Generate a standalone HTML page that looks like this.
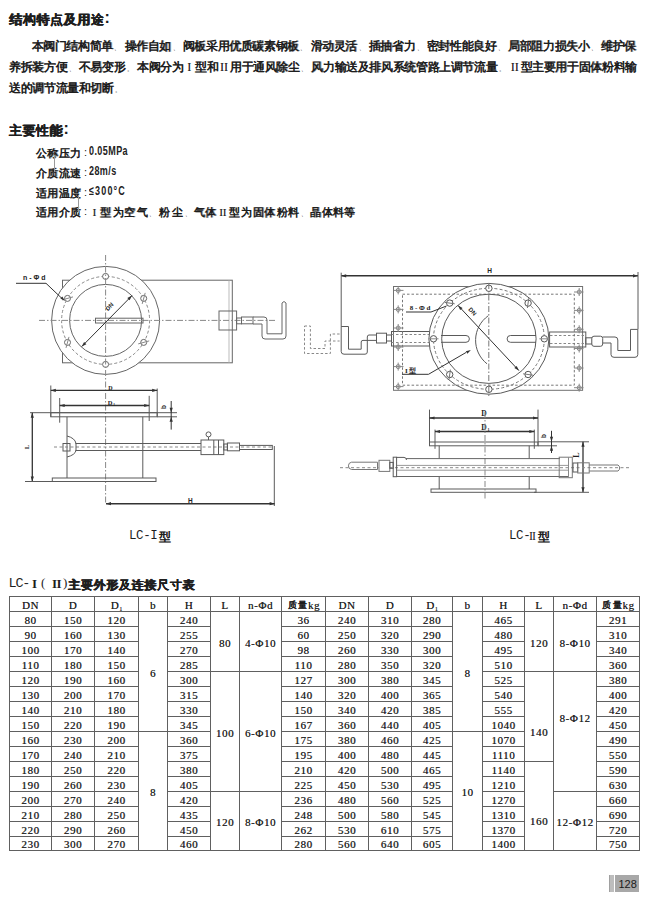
<!DOCTYPE html><html><head><meta charset="utf-8"><title>LC</title><style>
@font-face{font-family:"Liberation Sans CJK";src:local("Liberation Sans");font-weight:400;size-adjust:133%;unicode-range:U+3000-9FFF,U+FF00-FFEF;}
html,body{margin:0;padding:0;background:#fff;}
body{width:650px;height:900px;position:relative;overflow:hidden;font-family:"Liberation Sans CJK","Liberation Sans",sans-serif;color:#1e1e1e;}
i{font-style:normal;}
.t{position:absolute;white-space:nowrap;line-height:1;}
.t i{display:inline-block;text-align:center;font-weight:bold;}
.t i.r{font-family:"Liberation Serif",serif;font-weight:normal;}
.t i.pu{font-size:6px;text-align:left;text-indent:1.5px;font-weight:normal;text-shadow:none}
.h{font-size:12.5px;}
.h i{text-shadow:.3px 0 0 currentColor,-.3px 0 0 currentColor;}
.w136{width:13.6px}.w1163{width:11.63px}.w114{width:11.4px}.w127{width:12.7px}.w12{width:12px}
.p{font-size:12px;}
.p i,.s i{text-shadow:.3px .3px 0 rgba(30,30,30,.45);}
.s{font-size:11px;}
.mono{font-family:"Liberation Mono",monospace;}
.nar{display:inline-block;transform-origin:0 0;}
svg{position:absolute;left:0;top:0;}
table{position:absolute;border-collapse:collapse;table-layout:fixed;font-family:"Liberation Sans CJK","Liberation Serif",serif;font-size:12px;color:#1e1e1e;}
td{border:1px solid #606060;height:12px;padding:2px 0 0 0;text-align:center;vertical-align:middle;line-height:12px;white-space:nowrap;font-weight:normal;font-size:11px;letter-spacing:.6px;text-shadow:.35px 0 0 rgba(20,20,20,.7);}
td i{display:inline-block;font-weight:bold;vertical-align:top;line-height:12px;height:12px;font-size:8.5px;width:10.5px;letter-spacing:0}
sub{vertical-align:top;line-height:0;position:relative;top:10px;font-size:6px;letter-spacing:0}
.pg{position:absolute;left:608px;top:875px;width:31px;height:16px;background:#a9a9a9;}
</style></head><body>

<div class="t h" style="left:9.1px;top:13.6px"><i class="w136">结</i><i class="w136">构</i><i class="w136">特</i><i class="w136">点</i><i class="w136">及</i><i class="w136">用</i><i class="w136">途</i></div>
<div class="t" style="left:104.5px;top:9.5px;font-size:16px;font-weight:bold">:</div>
<div class="t p" style="left:31.6px;top:40px"><i class="w1163">本</i><i class="w1163">阀</i><i class="w1163">门</i><i class="w1163">结</i><i class="w1163">构</i><i class="w1163">简</i><i class="w1163">单</i><i class="w1163 pu">、</i><i class="w1163">操</i><i class="w1163">作</i><i class="w1163">自</i><i class="w1163">如</i><i class="w1163 pu">、</i><i class="w1163">阀</i><i class="w1163">板</i><i class="w1163">采</i><i class="w1163">用</i><i class="w1163">优</i><i class="w1163">质</i><i class="w1163">碳</i><i class="w1163">素</i><i class="w1163">钢</i><i class="w1163">板</i><i class="w1163 pu">、</i><i class="w1163">滑</i><i class="w1163">动</i><i class="w1163">灵</i><i class="w1163">活</i><i class="w1163 pu">、</i><i class="w1163">插</i><i class="w1163">抽</i><i class="w1163">省</i><i class="w1163">力</i><i class="w1163 pu">、</i><i class="w1163">密</i><i class="w1163">封</i><i class="w1163">性</i><i class="w1163">能</i><i class="w1163">良</i><i class="w1163">好</i><i class="w1163 pu">、</i><i class="w1163">局</i><i class="w1163">部</i><i class="w1163">阻</i><i class="w1163">力</i><i class="w1163">损</i><i class="w1163">失</i><i class="w1163">小</i><i class="w1163 pu">、</i><i class="w1163">维</i><i class="w1163">护</i><i class="w1163">保</i></div>
<div class="t p" style="left:9px;top:61px"><i class="w1163">养</i><i class="w1163">拆</i><i class="w1163">装</i><i class="w1163">方</i><i class="w1163">便</i><i class="w1163 pu">、</i><i class="w1163">不</i><i class="w1163">易</i><i class="w1163">变</i><i class="w1163">形</i><i class="w1163 pu">。</i><i class="w1163">本</i><i class="w1163">阀</i><i class="w1163">分</i><i class="w1163">为</i><i class="w1163 r">I</i><i class="w1163">型</i><i class="w1163">和</i><i class="w1163 r">II</i><i class="w1163">用</i><i class="w1163">于</i><i class="w1163">通</i><i class="w1163">风</i><i class="w1163">除</i><i class="w1163">尘</i><i class="w1163 pu">、</i><i class="w1163">风</i><i class="w1163">力</i><i class="w1163">输</i><i class="w1163">送</i><i class="w1163">及</i><i class="w1163">排</i><i class="w1163">风</i><i class="w1163">系</i><i class="w1163">统</i><i class="w1163">管</i><i class="w1163">路</i><i class="w1163">上</i><i class="w1163">调</i><i class="w1163">节</i><i class="w1163">流</i><i class="w1163">量</i><i class="w1163 pu">。</i><i class="w1163 r">II</i><i class="w1163">型</i><i class="w1163">主</i><i class="w1163">要</i><i class="w1163">用</i><i class="w1163">于</i><i class="w1163">固</i><i class="w1163">体</i><i class="w1163">粉</i><i class="w1163">料</i><i class="w1163">输</i></div>
<div class="t p" style="left:9px;top:82px"><i class="w1163">送</i><i class="w1163">的</i><i class="w1163">调</i><i class="w1163">节</i><i class="w1163">流</i><i class="w1163">量</i><i class="w1163">和</i><i class="w1163">切</i><i class="w1163">断</i><i class="w1163 pu">。</i></div>
<div class="t h" style="left:8.7px;top:125px"><i class="w136">主</i><i class="w136">要</i><i class="w136">性</i><i class="w136">能</i></div>
<div class="t" style="left:63.5px;top:120.5px;font-size:16px;font-weight:bold">:</div>
<div class="t s" style="left:35.7px;top:147.6px"><i class="w114">公</i><i class="w114">称</i><i class="w114">压</i><i class="w114">力</i></div>
<div class="t" style="left:84px;top:146.6px;font-size:11px">:</div>
<div class="t" style="left:89px;top:145.1px;font-size:12.5px;transform:scaleX(.72);transform-origin:0 0;color:#222;font-weight:bold;letter-spacing:.6px">0.05MPa</div>
<div class="t s" style="left:35.7px;top:167.9px"><i class="w114">介</i><i class="w114">质</i><i class="w114">流</i><i class="w114">速</i></div>
<div class="t" style="left:84px;top:166.9px;font-size:11px">:</div>
<div class="t" style="left:89px;top:165.4px;font-size:12.5px;transform:scaleX(.72);transform-origin:0 0;color:#222;font-weight:bold;letter-spacing:.6px">28m/s</div>
<div class="t s" style="left:35.7px;top:187.6px"><i class="w114">适</i><i class="w114">用</i><i class="w114">温</i><i class="w114">度</i></div>
<div class="t" style="left:84px;top:186.6px;font-size:11px">:</div>
<div class="t" style="left:89px;top:185.1px;font-size:12.5px;transform:scaleX(.72);transform-origin:0 0;color:#222;font-weight:bold;letter-spacing:1.6px">≤300°C</div>
<div class="t s" style="left:35.7px;top:207.3px"><i class="w114">适</i><i class="w114">用</i><i class="w114">介</i><i class="w114">质</i></div>
<div class="t" style="left:84px;top:206.3px;font-size:11px">:</div>
<div class="t s" style="left:92.6px;top:207.3px"><i class="r" style="width:8.2px;text-align:left">I</i><i style="width:12.2px;text-align:left;text-indent:-0.3px">型</i><i style="width:11.6px;text-align:left;text-indent:-0.3px">为</i><i style="width:12.4px;text-align:left;text-indent:-0.3px">空</i><i style="width:10.7px;text-align:left;text-indent:-0.3px">气</i><i class="pu" style="width:11.5px">、</i><i style="width:13.1px;text-align:left;text-indent:-0.3px">粉</i><i style="width:11.5px;text-align:left;text-indent:-0.3px">尘</i><i class="pu" style="width:10.8px">、</i><i style="width:11.1px;text-align:left;text-indent:-0.3px">气</i><i style="width:13.5px;text-align:left;text-indent:-0.3px">体</i><i class="r" style="width:10.0px;text-align:left">II</i><i style="width:12.3px;text-align:left;text-indent:-0.3px">型</i><i style="width:12.3px;text-align:left;text-indent:-0.3px">为</i><i style="width:10.8px;text-align:left;text-indent:-0.3px">固</i><i style="width:12.4px;text-align:left;text-indent:-0.3px">体</i><i style="width:11.5px;text-align:left;text-indent:-0.3px">粉</i><i style="width:11.5px;text-align:left;text-indent:-0.3px">料</i><i class="pu" style="width:10.8px">、</i><i style="width:11.5px;text-align:left;text-indent:-0.3px">晶</i><i style="width:10.7px;text-align:left;text-indent:-0.3px">体</i><i style="width:11.6px;text-align:left;text-indent:-0.3px">料</i><i style="width:11.3px;text-align:left;text-indent:-0.3px">等</i></div>
<div style="position:absolute;left:54px;top:155px;width:1px;height:17px;background:#9a9a9a"></div>
<div style="position:absolute;left:78px;top:195px;width:1px;height:18px;background:#9a9a9a"></div>
<svg width="650" height="900" viewBox="0 0 650 900" fill="none" stroke="#555" stroke-width="1">
<rect x="62.5" y="280.2" width="169.8" height="82.6" stroke="#666" stroke-width="1" fill="none"/>
<line x1="229.0" y1="280.5" x2="229.0" y2="362.5" stroke="#bbb" stroke-width="1"/>
<rect x="219.0" y="311.0" width="17.6" height="19.0" stroke="#666" stroke-width="1" fill="none"/>
<circle cx="105.6" cy="320.4" r="54.0" stroke="#666" stroke-width="1" fill="#fff"/>
<circle cx="105.6" cy="320.4" r="44.0" stroke="#888" stroke-width="1" fill="none" stroke-dasharray="3 2.2"/>
<circle cx="105.6" cy="320.4" r="36.0" stroke="#666" stroke-width="1" fill="none"/>
<circle cx="105.6" cy="276.4" r="3.0" stroke="#666" stroke-width="1" fill="#fff"/>
<circle cx="143.7" cy="298.4" r="3.0" stroke="#666" stroke-width="1" fill="#fff"/>
<line x1="142.2" y1="303.9" x2="145.2" y2="292.9" stroke="#888" stroke-width="1"/>
<circle cx="143.7" cy="342.4" r="3.0" stroke="#666" stroke-width="1" fill="#fff"/>
<line x1="138.2" y1="343.9" x2="149.2" y2="340.9" stroke="#888" stroke-width="1"/>
<circle cx="105.6" cy="364.4" r="3.0" stroke="#666" stroke-width="1" fill="#fff"/>
<circle cx="67.5" cy="298.4" r="3.0" stroke="#666" stroke-width="1" fill="#fff"/>
<line x1="73.0" y1="296.9" x2="62.0" y2="299.9" stroke="#888" stroke-width="1"/>
<circle cx="67.5" cy="342.4" r="3.0" stroke="#666" stroke-width="1" fill="#fff"/>
<line x1="69.0" y1="336.9" x2="66.0" y2="347.9" stroke="#888" stroke-width="1"/>
<line x1="105.6" y1="255.0" x2="105.6" y2="503.0" stroke="#888" stroke-width="1" stroke-dasharray="6 2 1.5 2"/>
<line x1="39.0" y1="320.4" x2="275.0" y2="320.4" stroke="#888" stroke-width="1" stroke-dasharray="6 2 1.5 2"/>
<rect x="95.5" y="318.2" width="47.5" height="4.8" stroke="#666" stroke-width="1" fill="none"/>
<line x1="81.7" y1="346.6" x2="132.0" y2="295.6" stroke="#333" stroke-width="1"/>
<path d="M81.7 346.6L84.1 341.9L86.4 344.2Z" fill="#333" stroke="none"/>
<path d="M132.0 295.6L129.6 300.3L127.3 298.0Z" fill="#333" stroke="none"/>
<text x="111.0" y="308.0" font-family="Liberation Sans" font-size="6" font-weight="bold" fill="#222" stroke="none" text-anchor="middle" transform="rotate(-47 111.0 308.0)">DN</text>
<text x="23.0" y="280.0" font-family="Liberation Sans" font-size="7" font-weight="bold" fill="#222" stroke="none" text-anchor="start">n - Φ d</text>
<path d="M16 283.3 L46 283.3 L62 298.5" stroke="#333" stroke-width="1" fill="none"/>
<path d="M65.0 301.0L60.4 298.6L62.3 296.5Z" fill="#333" stroke="none"/>
<rect x="236.6" y="318.0" width="4.9" height="5.8" stroke="#666" stroke-width="1" fill="none"/>
<rect x="241.5" y="317.0" width="11.5" height="6.8" stroke="#666" stroke-width="1" fill="none"/>
<path d="M253 317 L264 317 Q267 317 267 320 L267 333.8 L282 333.8 L282 303 Q284 300 286 303 L286 336 Q286 339 283 339 L265 339 Q262 339 262 336 L262 324 L253 324" stroke="#666" stroke-width="1" fill="none"/>
<line x1="50.8" y1="385.5" x2="50.8" y2="416.8" stroke="#5a5a5a" stroke-width="1"/>
<line x1="157.2" y1="388.5" x2="157.2" y2="416.8" stroke="#5a5a5a" stroke-width="1"/>
<line x1="50.8" y1="390.4" x2="157.2" y2="390.4" stroke="#333" stroke-width="1.3"/>
<path d="M50.8 390.4L55.8 388.8L55.8 392.0Z" fill="#333" stroke="none"/>
<path d="M157.2 390.4L152.2 392.0L152.2 388.8Z" fill="#333" stroke="none"/>
<text x="110.3" y="389.6" font-family="Liberation Serif" font-size="6" font-weight="bold" fill="#222" stroke="none" text-anchor="middle">D</text>
<line x1="59.7" y1="398.0" x2="59.7" y2="422.7" stroke="#5a5a5a" stroke-width="1"/>
<line x1="149.2" y1="395.8" x2="149.2" y2="421.0" stroke="#5a5a5a" stroke-width="1"/>
<line x1="59.7" y1="405.5" x2="149.2" y2="405.5" stroke="#333" stroke-width="1.3"/>
<path d="M59.7 405.5L64.7 403.9L64.7 407.1Z" fill="#333" stroke="none"/>
<path d="M149.2 405.5L144.2 407.1L144.2 403.9Z" fill="#333" stroke="none"/>
<text x="110.0" y="404.6" font-family="Liberation Serif" font-size="6.5" font-weight="bold" fill="#222" stroke="none" text-anchor="middle">D</text>
<text x="114.2" y="405.5" font-family="Liberation Serif" font-size="3.5" font-weight="bold" fill="#222" stroke="none" text-anchor="middle">1</text>
<rect x="50.8" y="412.7" width="106.4" height="4.1" stroke="#5a5a5a" stroke-width="1" fill="none"/>
<line x1="30.0" y1="412.7" x2="177.0" y2="412.7" stroke="#5a5a5a" stroke-width="1"/>
<line x1="157.2" y1="416.8" x2="177.0" y2="416.8" stroke="#5a5a5a" stroke-width="1"/>
<line x1="171.2" y1="401.0" x2="171.2" y2="429.6" stroke="#333" stroke-width="1"/>
<path d="M171.2 412.7L169.6 407.7L172.8 407.7Z" fill="#333" stroke="none"/>
<path d="M171.2 416.8L172.8 421.8L169.6 421.8Z" fill="#333" stroke="none"/>
<text x="166.0" y="407.0" font-family="Liberation Sans" font-size="6.5" font-weight="bold" fill="#222" stroke="none" text-anchor="middle" transform="rotate(-90 166.0 407.0)">b</text>
<line x1="67.0" y1="416.8" x2="67.0" y2="478.0" stroke="#5a5a5a" stroke-width="1"/>
<line x1="142.8" y1="416.8" x2="142.8" y2="478.0" stroke="#5a5a5a" stroke-width="1"/>
<rect x="52.3" y="478.0" width="103.7" height="3.5" stroke="#5a5a5a" stroke-width="1" fill="none"/>
<line x1="32.3" y1="412.7" x2="32.3" y2="481.5" stroke="#333" stroke-width="1.3"/>
<path d="M32.3 412.7L33.9 417.7L30.7 417.7Z" fill="#333" stroke="none"/>
<path d="M32.3 481.5L30.7 476.5L33.9 476.5Z" fill="#333" stroke="none"/>
<line x1="25.0" y1="481.5" x2="52.3" y2="481.5" stroke="#5a5a5a" stroke-width="1"/>
<text x="29.0" y="447.0" font-family="Liberation Serif" font-size="6.5" font-weight="bold" fill="#222" stroke="none" text-anchor="middle" transform="rotate(-90 29.0 447.0)">L</text>
<line x1="75.4" y1="443.5" x2="201.0" y2="443.5" stroke="#5a5a5a" stroke-width="1"/>
<line x1="75.4" y1="450.5" x2="201.0" y2="450.5" stroke="#5a5a5a" stroke-width="1"/>
<line x1="54.0" y1="447.0" x2="272.0" y2="447.0" stroke="#888" stroke-width="1" stroke-dasharray="3 2.5"/>
<path d="M67 436 Q75 438 76 443.5 L76 450.5 Q75 455 67 457" stroke="#5a5a5a" stroke-width="1" fill="none"/>
<rect x="63.0" y="443.5" width="7.0" height="7.5" stroke="#5a5a5a" stroke-width="1" fill="none"/>
<rect x="201.0" y="440.0" width="22.8" height="14.6" stroke="#5a5a5a" stroke-width="1" fill="none"/>
<line x1="213.8" y1="440.0" x2="213.8" y2="454.6" stroke="#5a5a5a" stroke-width="1"/>
<line x1="218.5" y1="440.0" x2="218.5" y2="454.6" stroke="#5a5a5a" stroke-width="1"/>
<circle cx="208.5" cy="434.4" r="2.5" stroke="#5a5a5a" stroke-width="1" fill="none"/>
<line x1="208.5" y1="437.0" x2="208.5" y2="440.0" stroke="#5a5a5a" stroke-width="1"/>
<rect x="223.8" y="444.0" width="3.6" height="6.0" stroke="#5a5a5a" stroke-width="1" fill="none"/>
<rect x="227.4" y="443.0" width="12.1" height="7.8" stroke="#5a5a5a" stroke-width="1" fill="none"/>
<rect x="239.5" y="445.4" width="32.8" height="4.1" stroke="#5a5a5a" stroke-width="1" fill="none"/>
<line x1="274.3" y1="446.0" x2="274.3" y2="506.0" stroke="#5a5a5a" stroke-width="1"/>
<line x1="106.0" y1="503.7" x2="274.6" y2="503.7" stroke="#333" stroke-width="1.5"/>
<path d="M106.0 503.7L111.0 502.1L111.0 505.3Z" fill="#333" stroke="none"/>
<path d="M274.6 503.7L269.6 505.3L269.6 502.1Z" fill="#333" stroke="none"/>
<text x="190.4" y="502.5" font-family="Liberation Sans" font-size="6.5" font-weight="bold" fill="#222" stroke="none" text-anchor="middle">H</text>
<line x1="341.2" y1="275.8" x2="638.0" y2="275.8" stroke="#333" stroke-width="1.5"/>
<path d="M341.2 275.8L346.2 274.2L346.2 277.4Z" fill="#333" stroke="none"/>
<path d="M638.0 275.8L633.0 277.4L633.0 274.2Z" fill="#333" stroke="none"/>
<text x="489.5" y="273.2" font-family="Liberation Sans" font-size="6.5" font-weight="bold" fill="#222" stroke="none" text-anchor="middle">H</text>
<line x1="341.2" y1="272.7" x2="341.2" y2="326.5" stroke="#5a5a5a" stroke-width="1"/>
<line x1="638.0" y1="272.0" x2="638.0" y2="329.3" stroke="#5a5a5a" stroke-width="1"/>
<rect x="393.5" y="286.5" width="189.1" height="103.8" stroke="#707070" stroke-width="1" fill="none"/>
<rect x="391.5" y="331.5" width="38.0" height="14.5" stroke="#5a5a5a" stroke-width="1" fill="none"/>
<line x1="391.5" y1="334.5" x2="429.0" y2="334.5" stroke="#888" stroke-width="1" stroke-dasharray="2.5 2"/>
<line x1="391.5" y1="342.5" x2="429.0" y2="342.5" stroke="#888" stroke-width="1" stroke-dasharray="2.5 2"/>
<rect x="549.6" y="332.0" width="36.2" height="15.0" stroke="#5a5a5a" stroke-width="1" fill="none"/>
<line x1="550.0" y1="335.5" x2="585.0" y2="335.5" stroke="#888" stroke-width="1" stroke-dasharray="2.5 2"/>
<line x1="550.0" y1="343.5" x2="585.0" y2="343.5" stroke="#888" stroke-width="1" stroke-dasharray="2.5 2"/>
<ellipse cx="488.9" cy="338.8" rx="60.0" ry="55.4" stroke="#5a5a5a" stroke-width="1" fill="#fff"/>
<rect x="402.5" y="294.2" width="171.8" height="91.0" stroke="#777" stroke-width="1" fill="none" stroke-dasharray="2.5 2"/>
<ellipse cx="488.9" cy="338.8" rx="55.4" ry="50.5" stroke="#777" stroke-width="1" fill="none" stroke-dasharray="3 2.2"/>
<ellipse cx="488.9" cy="338.8" rx="47.2" ry="44.6" stroke="#5a5a5a" stroke-width="1" fill="none"/>
<circle cx="398.2" cy="290.4" r="2.0" stroke="#888" stroke-width="1" fill="none"/>
<line x1="394.0" y1="290.4" x2="403.5" y2="290.4" stroke="#888" stroke-width="1"/>
<line x1="398.2" y1="286.4" x2="398.2" y2="294.4" stroke="#888" stroke-width="1"/>
<circle cx="398.2" cy="309.4" r="2.0" stroke="#888" stroke-width="1" fill="none"/>
<line x1="394.0" y1="309.4" x2="403.5" y2="309.4" stroke="#888" stroke-width="1"/>
<line x1="398.2" y1="305.4" x2="398.2" y2="313.4" stroke="#888" stroke-width="1"/>
<circle cx="398.2" cy="328.0" r="2.0" stroke="#888" stroke-width="1" fill="none"/>
<line x1="394.0" y1="328.0" x2="403.5" y2="328.0" stroke="#888" stroke-width="1"/>
<line x1="398.2" y1="324.0" x2="398.2" y2="332.0" stroke="#888" stroke-width="1"/>
<circle cx="398.2" cy="347.0" r="2.0" stroke="#888" stroke-width="1" fill="none"/>
<line x1="394.0" y1="347.0" x2="403.5" y2="347.0" stroke="#888" stroke-width="1"/>
<line x1="398.2" y1="343.0" x2="398.2" y2="351.0" stroke="#888" stroke-width="1"/>
<circle cx="398.2" cy="366.6" r="2.0" stroke="#888" stroke-width="1" fill="none"/>
<line x1="394.0" y1="366.6" x2="403.5" y2="366.6" stroke="#888" stroke-width="1"/>
<line x1="398.2" y1="362.6" x2="398.2" y2="370.6" stroke="#888" stroke-width="1"/>
<circle cx="398.2" cy="386.6" r="2.0" stroke="#888" stroke-width="1" fill="none"/>
<line x1="394.0" y1="386.6" x2="403.5" y2="386.6" stroke="#888" stroke-width="1"/>
<line x1="398.2" y1="382.6" x2="398.2" y2="390.6" stroke="#888" stroke-width="1"/>
<circle cx="579.2" cy="292.0" r="2.0" stroke="#888" stroke-width="1" fill="none"/>
<line x1="574.0" y1="292.0" x2="583.5" y2="292.0" stroke="#888" stroke-width="1"/>
<line x1="579.2" y1="288.0" x2="579.2" y2="296.0" stroke="#888" stroke-width="1"/>
<circle cx="579.2" cy="310.4" r="2.0" stroke="#888" stroke-width="1" fill="none"/>
<line x1="574.0" y1="310.4" x2="583.5" y2="310.4" stroke="#888" stroke-width="1"/>
<line x1="579.2" y1="306.4" x2="579.2" y2="314.4" stroke="#888" stroke-width="1"/>
<circle cx="579.2" cy="329.3" r="2.0" stroke="#888" stroke-width="1" fill="none"/>
<line x1="574.0" y1="329.3" x2="583.5" y2="329.3" stroke="#888" stroke-width="1"/>
<line x1="579.2" y1="325.3" x2="579.2" y2="333.3" stroke="#888" stroke-width="1"/>
<circle cx="579.2" cy="348.5" r="2.0" stroke="#888" stroke-width="1" fill="none"/>
<line x1="574.0" y1="348.5" x2="583.5" y2="348.5" stroke="#888" stroke-width="1"/>
<line x1="579.2" y1="344.5" x2="579.2" y2="352.5" stroke="#888" stroke-width="1"/>
<circle cx="579.2" cy="368.0" r="2.0" stroke="#888" stroke-width="1" fill="none"/>
<line x1="574.0" y1="368.0" x2="583.5" y2="368.0" stroke="#888" stroke-width="1"/>
<line x1="579.2" y1="364.0" x2="579.2" y2="372.0" stroke="#888" stroke-width="1"/>
<circle cx="579.2" cy="387.7" r="2.0" stroke="#888" stroke-width="1" fill="none"/>
<line x1="574.0" y1="387.7" x2="583.5" y2="387.7" stroke="#888" stroke-width="1"/>
<line x1="579.2" y1="383.7" x2="579.2" y2="391.7" stroke="#888" stroke-width="1"/>
<circle cx="544.3" cy="338.8" r="3.2" stroke="#555" stroke-width="1" fill="#fff"/>
<line x1="539.3" y1="338.8" x2="549.3" y2="338.8" stroke="#888" stroke-width="1"/>
<circle cx="528.1" cy="303.1" r="3.2" stroke="#555" stroke-width="1" fill="#fff"/>
<line x1="527.4" y1="308.0" x2="528.8" y2="298.1" stroke="#777" stroke-width="1"/>
<circle cx="488.9" cy="288.3" r="3.2" stroke="#555" stroke-width="1" fill="#fff"/>
<circle cx="449.7" cy="303.1" r="3.2" stroke="#555" stroke-width="1" fill="#fff"/>
<line x1="454.7" y1="303.8" x2="444.8" y2="302.4" stroke="#777" stroke-width="1"/>
<circle cx="433.5" cy="338.8" r="3.2" stroke="#555" stroke-width="1" fill="#fff"/>
<line x1="428.5" y1="338.8" x2="438.5" y2="338.8" stroke="#888" stroke-width="1"/>
<circle cx="449.7" cy="374.5" r="3.2" stroke="#555" stroke-width="1" fill="#fff"/>
<line x1="450.4" y1="369.6" x2="449.0" y2="379.5" stroke="#777" stroke-width="1"/>
<circle cx="488.9" cy="389.3" r="3.2" stroke="#555" stroke-width="1" fill="#fff"/>
<circle cx="528.1" cy="374.5" r="3.2" stroke="#555" stroke-width="1" fill="#fff"/>
<line x1="523.1" y1="373.8" x2="533.0" y2="375.2" stroke="#777" stroke-width="1"/>
<line x1="488.8" y1="283.0" x2="488.8" y2="396.0" stroke="#777" stroke-width="1" stroke-dasharray="6 2 1.5 2"/>
<path d="M441 335.5 L466 335.5 A3.4 3.4 0 0 1 466 342.3 L441 342.3" stroke="#5a5a5a" stroke-width="1" fill="none"/>
<path d="M536 335.5 L510.5 335.5 A3.4 3.4 0 0 0 510.5 342.3 L536 342.3" stroke="#5a5a5a" stroke-width="1" fill="none"/>
<path d="M488.2 315.8 A30 30 0 0 0 487 363.8" stroke="#5a5a5a" stroke-width="1" fill="none"/>
<line x1="458.0" y1="305.4" x2="518.9" y2="370.6" stroke="#333" stroke-width="1"/>
<path d="M458.0 305.4L462.6 308.0L460.2 310.1Z" fill="#333" stroke="none"/>
<path d="M518.9 370.6L514.3 368.0L516.7 365.9Z" fill="#333" stroke="none"/>
<text x="471.0" y="313.0" font-family="Liberation Sans" font-size="6" font-weight="bold" fill="#222" stroke="none" text-anchor="middle" transform="rotate(47 471.0 313.0)">DN</text>
<text x="409.7" y="310.0" font-family="Liberation Serif" font-size="7" font-weight="bold" fill="#222" stroke="none" text-anchor="start">8 - Φ d</text>
<path d="M406 312 L431 312 L446.5 306" stroke="#333" stroke-width="1" fill="none"/>
<text x="405.0" y="373.0" font-family="Liberation Serif" font-size="7" font-weight="bold" fill="#222" stroke="none" text-anchor="start">I</text>
<text x="408.5" y="373" font-family="Liberation Sans CJK,Liberation Sans" font-size="7" font-weight="bold" fill="#222" stroke="none">型</text>
<path d="M402 374.3 L428.5 374.3 L466 352.5" stroke="#333" stroke-width="1" fill="none"/>
<path d="M470.9 350.0L467.3 353.8L465.8 351.2Z" fill="#333" stroke="none"/>
<path d="M341.2 326.5 L348.5 326.5 L348.5 349.2 L361.2 349.2 L361.2 342 Q361.2 340.4 363 340.4 L376.5 340.4 M376.5 335 L369 335 Q367.3 335 367.3 337 L367.3 352 Q367.3 354.2 365 354.2 L344 354.2 Q341.2 354.2 341.2 351.5 L341.2 326.5" stroke="#5a5a5a" stroke-width="1" fill="none"/>
<rect x="376.5" y="333.2" width="10.0" height="9.8" stroke="#5a5a5a" stroke-width="1" fill="#fff"/>
<rect x="386.5" y="335.0" width="5.0" height="6.0" stroke="#5a5a5a" stroke-width="1" fill="none"/>
<path d="M304.5 326 L310.4 326 L310.4 348.5 L325 348.5 L325 341 L339.6 341 M339.6 334 L330.4 334 L330.4 353.5 L304.5 353.5 L304.5 326" stroke="#888" stroke-width="1" fill="none" stroke-dasharray="2.5 2"/>
<rect x="585.8" y="337.8" width="6.5" height="6.2" stroke="#5a5a5a" stroke-width="1" fill="none"/>
<path d="M594 336.2 L600.5 336.2 Q602.7 336.2 602.7 338.5 L602.7 344 Q602.7 346.3 600.5 346.3 L594 346.3 Q591.8 346.3 591.8 344 L591.8 338.5 Q591.8 336.2 594 336.2Z" stroke="#5a5a5a" stroke-width="1" fill="#fff"/>
<path d="M602.7 337 L615 337 Q617.8 337 617.8 340 L617.8 350.5 L630.5 350.5 L630.5 329.4 L637.8 329.4 L637.8 354.5 Q637.8 357.3 635 357.3 L614 357.3 Q611 357.3 611 354.5 L611 343 L602.7 343" stroke="#5a5a5a" stroke-width="1" fill="none"/>
<line x1="429.5" y1="409.6" x2="429.5" y2="445.8" stroke="#5a5a5a" stroke-width="1"/>
<line x1="538.0" y1="409.6" x2="538.0" y2="445.8" stroke="#5a5a5a" stroke-width="1"/>
<line x1="429.5" y1="418.0" x2="538.0" y2="418.0" stroke="#333" stroke-width="1.3"/>
<path d="M429.5 418.0L434.5 416.4L434.5 419.6Z" fill="#333" stroke="none"/>
<path d="M538.0 418.0L533.0 419.6L533.0 416.4Z" fill="#333" stroke="none"/>
<text x="484.0" y="416.4" font-family="Liberation Serif" font-size="7.5" font-weight="bold" fill="#222" stroke="none" text-anchor="middle">D</text>
<line x1="435.0" y1="429.6" x2="435.0" y2="448.8" stroke="#5a5a5a" stroke-width="1"/>
<line x1="534.3" y1="429.6" x2="534.3" y2="448.8" stroke="#5a5a5a" stroke-width="1"/>
<line x1="435.0" y1="431.5" x2="534.3" y2="431.5" stroke="#333" stroke-width="1.3"/>
<path d="M435.0 431.5L440.0 429.9L440.0 433.1Z" fill="#333" stroke="none"/>
<path d="M534.3 431.5L529.3 433.1L529.3 429.9Z" fill="#333" stroke="none"/>
<text x="484.0" y="429.8" font-family="Liberation Serif" font-size="7.5" font-weight="bold" fill="#222" stroke="none" text-anchor="middle">D</text>
<text x="488.6" y="430.5" font-family="Liberation Serif" font-size="4" font-weight="bold" fill="#222" stroke="none" text-anchor="middle">1</text>
<rect x="429.5" y="442.0" width="108.5" height="3.8" stroke="#5a5a5a" stroke-width="1" fill="none"/>
<line x1="538.0" y1="441.8" x2="589.0" y2="441.8" stroke="#5a5a5a" stroke-width="1"/>
<line x1="538.0" y1="445.8" x2="557.0" y2="445.8" stroke="#5a5a5a" stroke-width="1"/>
<line x1="551.5" y1="430.8" x2="551.5" y2="453.0" stroke="#333" stroke-width="1"/>
<path d="M551.5 441.8L549.9 436.8L553.1 436.8Z" fill="#333" stroke="none"/>
<path d="M551.5 445.8L553.1 450.8L549.9 450.8Z" fill="#333" stroke="none"/>
<text x="546.0" y="436.0" font-family="Liberation Sans" font-size="6.5" font-weight="bold" fill="#222" stroke="none" text-anchor="middle" transform="rotate(-90 546.0 436.0)">b</text>
<line x1="583.0" y1="441.8" x2="583.0" y2="492.3" stroke="#333" stroke-width="1.3"/>
<path d="M583.0 441.8L584.6 446.8L581.4 446.8Z" fill="#333" stroke="none"/>
<path d="M583.0 492.3L581.4 487.3L584.6 487.3Z" fill="#333" stroke="none"/>
<line x1="534.0" y1="492.3" x2="589.0" y2="492.3" stroke="#5a5a5a" stroke-width="1"/>
<text x="579.0" y="455.0" font-family="Liberation Serif" font-size="8" font-weight="bold" fill="#222" stroke="none" text-anchor="middle" transform="rotate(-90 579.0 455.0)">L</text>
<line x1="439.2" y1="445.8" x2="439.2" y2="458.6" stroke="#5a5a5a" stroke-width="1"/>
<line x1="529.2" y1="445.8" x2="529.2" y2="458.6" stroke="#5a5a5a" stroke-width="1"/>
<line x1="439.2" y1="476.5" x2="439.2" y2="489.0" stroke="#5a5a5a" stroke-width="1"/>
<line x1="529.2" y1="476.5" x2="529.2" y2="489.0" stroke="#5a5a5a" stroke-width="1"/>
<rect x="431.0" y="489.0" width="105.0" height="3.3" stroke="#5a5a5a" stroke-width="1" fill="none"/>
<line x1="485.0" y1="412.0" x2="485.0" y2="500.0" stroke="#888" stroke-width="1" stroke-dasharray="6 2 1.5 2"/>
<line x1="406.0" y1="458.6" x2="560.0" y2="458.6" stroke="#666" stroke-width="1"/>
<line x1="397.0" y1="476.5" x2="568.5" y2="476.5" stroke="#666" stroke-width="1"/>
<line x1="397.0" y1="465.4" x2="568.5" y2="465.4" stroke="#999" stroke-width="1"/>
<line x1="397.0" y1="470.2" x2="568.5" y2="470.2" stroke="#999" stroke-width="1"/>
<line x1="340.0" y1="467.7" x2="630.0" y2="467.7" stroke="#888" stroke-width="1" stroke-dasharray="3 2.5"/>
<rect x="393.2" y="457.2" width="3.4" height="19.5" stroke="#5a5a5a" stroke-width="1" fill="none"/>
<path d="M396.6 457.4 L404 457.4 Q406.5 457.6 406.5 460" stroke="#5a5a5a" stroke-width="1" fill="none"/>
<rect x="559.2" y="457.2" width="13.1" height="20.5" stroke="#777" stroke-width="1" fill="none"/>
<line x1="568.5" y1="457.2" x2="568.5" y2="477.7" stroke="#888" stroke-width="1"/>
<path d="M377.5 462.2 L351.5 462.2 A3.7 3.7 0 0 0 351.5 469.5 L377.5 469.5 Z" stroke="#777" stroke-width="1" fill="none"/>
<rect x="379.0" y="460.3" width="10.8" height="11.1" stroke="#777" stroke-width="1" fill="#fff"/>
<rect x="389.8" y="462.4" width="3.4" height="5.9" stroke="#5a5a5a" stroke-width="1" fill="none"/>
<rect x="573.0" y="463.0" width="4.7" height="9.0" stroke="#5a5a5a" stroke-width="1" fill="none"/>
<rect x="577.7" y="462.8" width="11.5" height="10.2" stroke="#777" stroke-width="1" fill="none"/>
<path d="M589.2 465 L618 465 A3.5 3.5 0 0 1 618 471 L589.2 471" stroke="#777" stroke-width="1" fill="none"/>
</svg>
<div class="t mono" style="left:129px;top:530px;font-size:12.5px;letter-spacing:-.4px">LC-I</div>
<div class="t p" style="left:158.5px;top:531px"><i class="w12">型</i></div>
<div class="t mono" style="left:509px;top:530px;font-size:12.5px;letter-spacing:-.4px">LC-</div>
<div class="t" style="left:529px;top:529.5px;font-size:12px;font-family:'Liberation Serif',serif;letter-spacing:-1px">II</div>
<div class="t p" style="left:538px;top:531px"><i class="w12">型</i></div>
<div class="t mono" style="left:8.5px;top:576.5px;font-size:13.5px;letter-spacing:-1.2px">LC-</div>
<div class="t" style="left:32px;top:577px;font-size:13px;font-family:'Liberation Serif',serif;font-weight:bold">I</div>
<div class="t" style="left:41px;top:576px;font-size:13px;font-family:'Liberation Serif',serif;">(</div>
<div class="t" style="left:52px;top:577px;font-size:13px;font-family:'Liberation Serif',serif;font-weight:bold;letter-spacing:-.5px">II</div>
<div class="t" style="left:63px;top:576px;font-size:13px;font-family:'Liberation Serif',serif;">)</div>
<div class="t h" style="left:68px;top:580px;font-size:11.5px"><i class="w127">主</i><i class="w127">要</i><i class="w127">外</i><i class="w127">形</i><i class="w127">及</i><i class="w127">连</i><i class="w127">接</i><i class="w127">尺</i><i class="w127">寸</i><i class="w127">表</i></div>
<table style="left:9px;top:596px;width:630px">
<colgroup><col style="width:42px"><col style="width:43px"><col style="width:44px"><col style="width:29px"><col style="width:43px"><col style="width:29px"><col style="width:42px"><col style="width:44px"><col style="width:43px"><col style="width:43px"><col style="width:41px"><col style="width:30px"><col style="width:42px"><col style="width:29px"><col style="width:43px"><col style="width:43px"></colgroup>
<tr><td>DN</td><td>D</td><td>D<sub>1</sub></td><td>b</td><td>H</td><td>L</td><td>n-Φd</td><td><i>质</i><i>量</i>kg</td><td>DN</td><td>D</td><td>D<sub>1</sub></td><td>b</td><td>H</td><td>L</td><td>n-Φd</td><td><i>质</i><i>量</i>kg</td></tr>
<tr><td>80</td><td>150</td><td>120</td><td rowspan="8">6</td><td>240</td><td rowspan="4">80</td><td rowspan="4">4-Φ10</td><td>36</td><td>240</td><td>310</td><td>280</td><td rowspan="8">8</td><td>465</td><td rowspan="4">120</td><td rowspan="4">8-Φ10</td><td>291</td></tr>
<tr><td>90</td><td>160</td><td>130</td><td>255</td><td>60</td><td>250</td><td>320</td><td>290</td><td>480</td><td>310</td></tr>
<tr><td>100</td><td>170</td><td>140</td><td>270</td><td>98</td><td>260</td><td>330</td><td>300</td><td>495</td><td>340</td></tr>
<tr><td>110</td><td>180</td><td>150</td><td>285</td><td>110</td><td>280</td><td>350</td><td>320</td><td>510</td><td>360</td></tr>
<tr><td>120</td><td>190</td><td>160</td><td>300</td><td rowspan="8">100</td><td rowspan="8">6-Φ10</td><td>127</td><td>300</td><td>380</td><td>345</td><td>525</td><td rowspan="6" style="padding-top:30px">140</td><td rowspan="8" style="padding-bottom:30px">8-Φ12</td><td>380</td></tr>
<tr><td>130</td><td>200</td><td>170</td><td>315</td><td>140</td><td>320</td><td>400</td><td>365</td><td>540</td><td>400</td></tr>
<tr><td>140</td><td>210</td><td>180</td><td>330</td><td>150</td><td>340</td><td>420</td><td>385</td><td>555</td><td>420</td></tr>
<tr><td>150</td><td>220</td><td>190</td><td>345</td><td>167</td><td>360</td><td>440</td><td>405</td><td>1040</td><td>450</td></tr>
<tr><td>160</td><td>230</td><td>200</td><td rowspan="8">8</td><td>360</td><td>175</td><td>380</td><td>460</td><td>425</td><td rowspan="8">10</td><td>1070</td><td>490</td></tr>
<tr><td>170</td><td>240</td><td>210</td><td>375</td><td>195</td><td>400</td><td>480</td><td>445</td><td>1110</td><td>550</td></tr>
<tr><td>180</td><td>250</td><td>220</td><td>380</td><td>210</td><td>420</td><td>500</td><td>465</td><td>1140</td><td rowspan="6" style="padding-top:29px">160</td><td>590</td></tr>
<tr><td>190</td><td>260</td><td>230</td><td>405</td><td>225</td><td>450</td><td>530</td><td>495</td><td>1210</td><td>630</td></tr>
<tr><td>200</td><td>270</td><td>240</td><td>420</td><td rowspan="4">120</td><td rowspan="4">8-Φ10</td><td>236</td><td>480</td><td>560</td><td>525</td><td>1270</td><td rowspan="4">12-Φ12</td><td>660</td></tr>
<tr><td>210</td><td>280</td><td>250</td><td>435</td><td>248</td><td>500</td><td>580</td><td>545</td><td>1310</td><td>690</td></tr>
<tr><td>220</td><td>290</td><td>260</td><td>450</td><td>262</td><td>530</td><td>610</td><td>575</td><td>1370</td><td>720</td></tr>
<tr><td style="height:11px;padding-top:1px">230</td><td style="height:11px;padding-top:1px">300</td><td style="height:11px;padding-top:1px">270</td><td style="height:11px;padding-top:1px">460</td><td style="height:11px;padding-top:1px">280</td><td style="height:11px;padding-top:1px">560</td><td style="height:11px;padding-top:1px">640</td><td style="height:11px;padding-top:1px">605</td><td style="height:11px;padding-top:1px">1400</td><td style="height:11px;padding-top:1px">750</td></tr>
</table>
<div style="position:absolute;left:609px;top:875px;width:5px;height:16.5px;background:#bdbdbd;border-left:1px solid #a0a0a0;box-sizing:border-box"></div>
<div style="position:absolute;left:615.4px;top:875px;width:23.5px;height:16.5px;background:#a8a8a8"></div>
<div class="t" style="left:618.5px;top:879px;font-size:11px;color:#1a1a1a">128</div>
</body></html>
